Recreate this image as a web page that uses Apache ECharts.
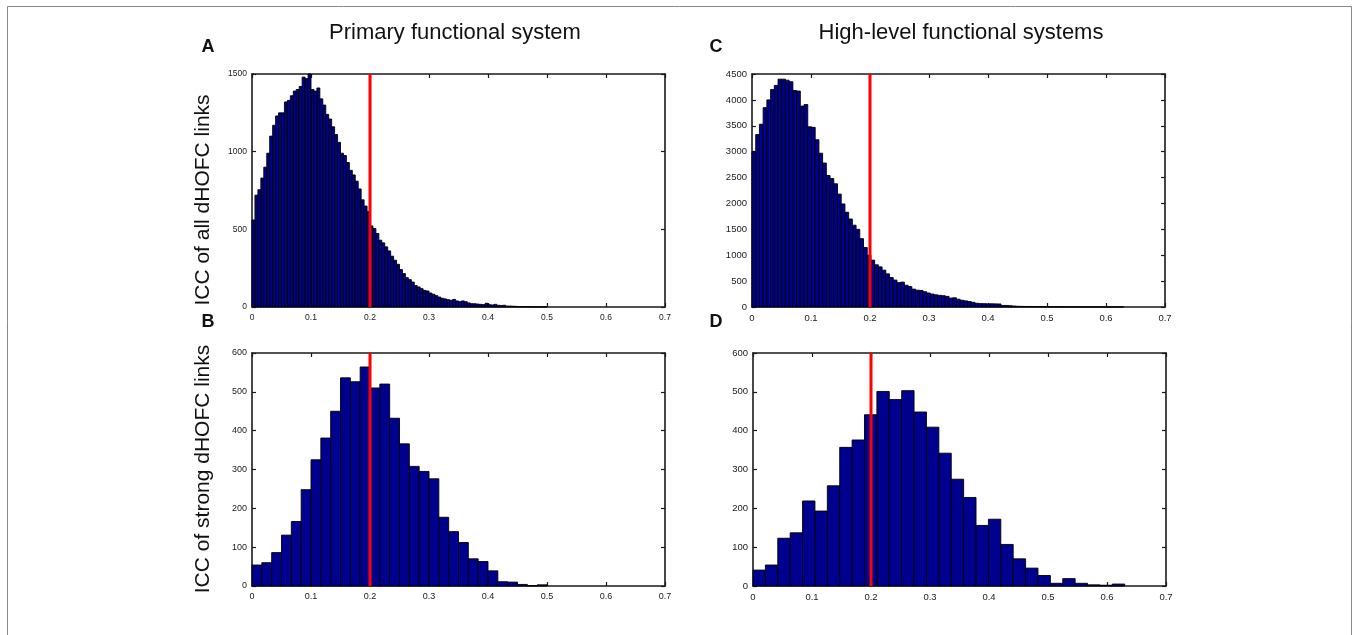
<!DOCTYPE html>
<html>
<head>
<meta charset="utf-8">
<script src="https://cdn.jsdelivr.net/npm/echarts@6/dist/echarts.min.js"></script>
<style>
html,body{margin:0;padding:0;background:#fff;}
#c{width:1357px;height:635px;}
</style>
</head>
<body>
<div id="c"></div>
<script>
// ---- data ----
const panelTitles = ['Primary functional system', 'High-level functional systems'];
const panelLetters = ['A', 'C', 'B', 'D'];
const rowLabels = ['ICC of all dHOFC links', 'ICC of strong dHOFC links'];
const xTicks = [0, 0.1, 0.2, 0.3, 0.4, 0.5, 0.6, 0.7];
const thresholdICC = 0.2;

const binWidthA = 0.005;
const countsA = [560,720,755,830,900,990,1100,1170,1230,1250,1250,1320,1330,1360,1390,1400,1420,1480,1470,1500,
  1400,1390,1410,1340,1300,1240,1210,1160,1110,1060,990,975,930,880,850,810,760,690,650,615,
  522,505,473,430,413,387,361,327,301,275,241,215,189,176,161,138,129,118,107,103,
  90,82,73,64,56,52,47,43,49,39,34,39,34,26,21,21,19,17,15,24,
  15,13,17,11,9,11,6,6,5,4,3,3,2,2,2,1,1,1,1,1];

const binWidthC = 0.0063;
const countsC = [3000,3330,3530,3850,4000,4200,4280,4400,4400,4380,4350,4180,4170,3880,3910,3480,3470,3230,2970,2780,
  2540,2480,2380,2180,1990,1830,1700,1580,1500,1320,1150,1000,
  905,815,775,711,640,570,520,470,480,420,395,345,325,320,295,270,250,235,225,218,
  205,172,178,150,130,118,105,90,72,65,64,60,62,60,58,30,30,25,18,14,
  12,10,10,9,8,7,6,5,5,4,4,4,3,3,3,3,2,2,2,2,1,1,1,1,1,1,1,1];

const binWidthB = 0.5 / 30;
const countsB = [54,60,86,131,166,248,325,381,450,536,526,564,510,520,432,366,308,295,276,177,140,112,70,63,39,11,10,4,1,3];

const binWidthD = 0.021;
const countsD = [41,54,123,137,219,193,258,357,376,441,501,480,503,448,409,342,275,228,156,172,107,70,46,27,7,19,7,3,2,5];

const yTicksA = [0, 500, 1000, 1500];
const yTicksC = [0, 500, 1000, 1500, 2000, 2500, 3000, 3500, 4000, 4500];
const yTicksB = [0, 100, 200, 300, 400, 500, 600];
const yTicksD = [0, 100, 200, 300, 400, 500, 600];

// ---- build ----
const panels = [
  {counts: countsA, bw: binWidthA, yt: yTicksA, grid: {left: 252, top: 74, width: 413, height: 233}, fs: 8.5},
  {counts: countsC, bw: binWidthC, yt: yTicksC, grid: {left: 752, top: 74, width: 413, height: 233}, fs: 9.5},
  {counts: countsB, bw: binWidthB, yt: yTicksB, grid: {left: 252, top: 353, width: 413, height: 233}, fs: 9},
  {counts: countsD, bw: binWidthD, yt: yTicksD, grid: {left: 753, top: 353, width: 413, height: 233}, fs: 9.5}
];

const grids = [], xAxes = [], yAxes = [], series = [];
const axisLine = {show: true, onZero: false, lineStyle: {color: '#1a1a1a', width: 1.6}};
panels.forEach((p, i) => {
  grids.push(Object.assign({containLabel: false}, p.grid));
  const ymax = p.yt[p.yt.length - 1];
  const yint = p.yt[1] - p.yt[0];
  const lab = {color: '#1a1a1a', fontSize: p.fs, fontFamily: 'Liberation Sans, Arial, sans-serif'};
  xAxes.push({type: 'value', gridIndex: i, position: 'bottom', min: xTicks[0], max: xTicks[xTicks.length-1], interval: 0.1,
    axisLine: axisLine, splitLine: {show: false},
    axisTick: {show: true, inside: true, length: 4, lineStyle: {color: '#1a1a1a', width: 1.2}},
    axisLabel: Object.assign({margin: 6, formatter: v => String(+v.toFixed(1))}, lab)});
  xAxes.push({type: 'value', gridIndex: i, position: 'top', min: xTicks[0], max: xTicks[xTicks.length-1], interval: 0.1,
    axisLine: axisLine, splitLine: {show: false},
    axisTick: {show: true, inside: true, length: 4, lineStyle: {color: '#1a1a1a', width: 1.2}},
    axisLabel: {show: false}});
  yAxes.push({type: 'value', gridIndex: i, position: 'left', min: 0, max: ymax, interval: yint,
    axisLine: axisLine, splitLine: {show: false},
    axisTick: {show: true, inside: true, length: 4, lineStyle: {color: '#1a1a1a', width: 1.2}},
    axisLabel: Object.assign({margin: 5, formatter: v => String(Math.round(v))}, lab)});
  yAxes.push({type: 'value', gridIndex: i, position: 'right', min: 0, max: ymax, interval: yint,
    axisLine: axisLine, splitLine: {show: false},
    axisTick: {show: true, inside: true, length: 4, lineStyle: {color: '#1a1a1a', width: 1.2}},
    axisLabel: {show: false}});
  const data = p.counts.map((c, k) => [k * p.bw, (k + 1) * p.bw, c]);
  series.push({
    type: 'custom', xAxisIndex: 2*i, yAxisIndex: 2*i, data: data, z: 2,
    renderItem: function (params, api) {
      const a = api.coord([api.value(0), 0]);
      const b = api.coord([api.value(1), api.value(2)]);
      return {type: 'rect', shape: {x: a[0], y: b[1], width: b[0] - a[0], height: a[1] - b[1]},
        style: {fill: '#00008F', stroke: '#000', lineWidth: 0.9}};
    },
    silent: true, animation: false
  });
  series.push({
    type: 'line', xAxisIndex: 2*i, yAxisIndex: 2*i, z: 5, symbol: 'none', silent: true, animation: false,
    data: [[thresholdICC, 0], [thresholdICC, ymax]],
    lineStyle: {color: '#ff0000', width: 3}
  });
});

const titleFont = 'Liberation Sans Narrow, Liberation Sans, sans-serif';
const graphic = [
  {type: 'rect', shape: {x: 7.5, y: 6.5, width: 1344, height: 640}, style: {fill: 'none', stroke: '#8a8a8a', lineWidth: 1}, silent: true},
  {type: 'text', x: 455, y: 33, style: {text: panelTitles[0], fontSize: 22, fontFamily: titleFont, fill: '#111', textAlign: 'center', textVerticalAlign: 'middle'}},
  {type: 'text', x: 961, y: 33, style: {text: panelTitles[1], fontSize: 22, fontFamily: titleFont, fill: '#111', textAlign: 'center', textVerticalAlign: 'middle'}},
  {type: 'text', x: 208, y: 47, style: {text: panelLetters[0], fontSize: 18, fontWeight: 'bold', fontFamily: titleFont, fill: '#111', textAlign: 'center', textVerticalAlign: 'middle'}},
  {type: 'text', x: 716, y: 47, style: {text: panelLetters[1], fontSize: 18, fontWeight: 'bold', fontFamily: titleFont, fill: '#111', textAlign: 'center', textVerticalAlign: 'middle'}},
  {type: 'text', x: 208, y: 322, style: {text: panelLetters[2], fontSize: 18, fontWeight: 'bold', fontFamily: titleFont, fill: '#111', textAlign: 'center', textVerticalAlign: 'middle'}},
  {type: 'text', x: 716, y: 322, style: {text: panelLetters[3], fontSize: 18, fontWeight: 'bold', fontFamily: titleFont, fill: '#111', textAlign: 'center', textVerticalAlign: 'middle'}},
  {type: 'text', x: 203, y: 200, rotation: Math.PI/2, style: {text: rowLabels[0], fontSize: 21, fontFamily: 'Liberation Sans, sans-serif', fill: '#111', textAlign: 'center', textVerticalAlign: 'middle'}},
  {type: 'text', x: 203, y: 469, rotation: Math.PI/2, style: {text: rowLabels[1], fontSize: 21, fontFamily: 'Liberation Sans, sans-serif', fill: '#111', textAlign: 'center', textVerticalAlign: 'middle'}}
];

const chart = echarts.init(document.getElementById('c'), null, {renderer: 'canvas'});
chart.setOption({
  animation: false,
  backgroundColor: '#fff',
  grid: grids, xAxis: xAxes, yAxis: yAxes, series: series, graphic: graphic
});
</script>
</body>
</html>
